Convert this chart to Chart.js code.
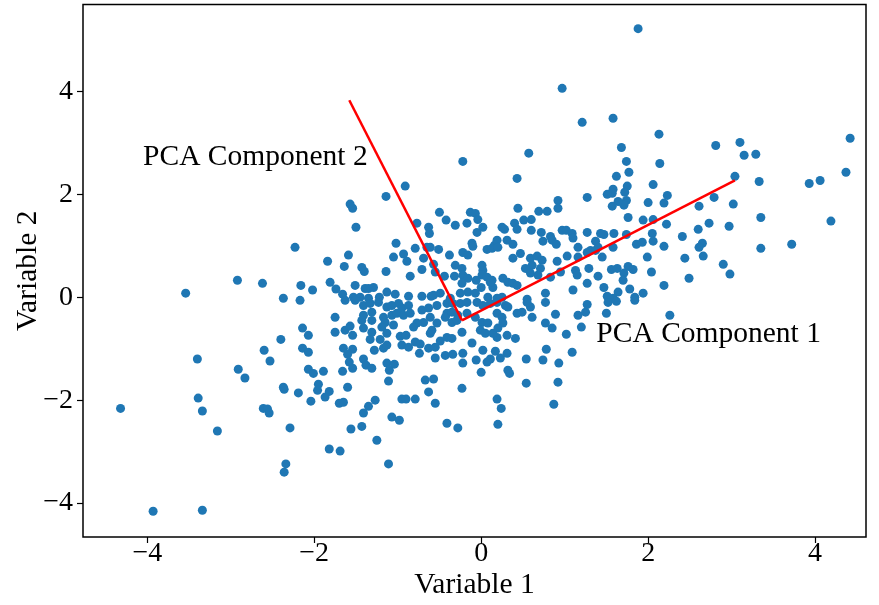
<!DOCTYPE html>
<html>
<head>
<meta charset="utf-8">
<script src="https://cdn.jsdelivr.net/npm/chart.js@4.4.1/dist/chart.umd.min.js"></script>
<style>
  html, body { margin: 0; padding: 0; background: #fff; }
  #wrap { width: 879px; height: 605px; }
</style>
</head>
<body>
<div id="wrap"><canvas id="pca" width="879" height="605"></canvas></div>
<script>
// sample cloud: [Variable 1, Variable 2]
const samples = [
  [-2.92,0.33],[-2.62,0.27],[-2.16,0.23],[-3.54,0.08],[-2.37,-0.02],[-2.17,-0.06],[-2.14,-0.60],[-2.40,-0.82],[-2.14,-0.99],[-2.60,-1.03],
  [-3.40,-1.20],[-2.53,-1.24],[-2.91,-1.40],[-2.83,-1.57],[-2.37,-1.75],[-2.36,-1.79],[-2.19,-1.86],[-3.39,-1.96],[-4.32,-2.16],[-3.34,-2.21],
  [-2.61,-2.16],[-2.56,-2.17],[-2.54,-2.25],[-3.16,-2.60],[-2.29,-2.54],[-2.34,-3.24],[-2.36,-3.40],[-3.93,-4.16],[-3.34,-4.14],[-2.23,0.97],
  [-0.91,2.16],[-1.14,1.96],[-1.57,1.81],[-1.54,1.73],[-1.50,1.36],[-0.50,1.65],[-0.42,1.50],[-0.77,1.44],[-0.63,1.36],[-0.62,1.24],
  [-1.02,1.05],[-0.79,0.95],[-0.65,0.97],[-0.61,0.97],[-0.51,0.93],[-1.05,0.78],[-0.93,0.84],[-0.89,0.70],[-0.69,0.76],[-1.84,0.70],
  [-1.59,0.82],[-1.64,0.60],[-1.43,0.58],[-1.40,0.50],[-1.14,0.50],[-0.71,0.54],[-0.57,0.64],[-0.55,0.49],[-0.44,0.41],[-0.85,0.41],
  [-0.38,0.82],[-2.02,0.14],[-1.81,0.29],[-1.74,0.16],[-1.66,0.06],[-1.51,0.23],[-1.39,0.17],[-1.35,0.17],[-1.29,0.19],[-1.22,0.00],
  [-1.13,0.10],[-1.03,0.06],[-0.87,0.02],[-0.71,0.02],[-0.60,0.02],[-0.57,0.04],[-0.49,0.08],[-1.53,0.00],[-1.45,0.00],[-1.35,-0.02],
  [-1.63,-0.06],[-1.51,-0.06],[-1.41,-0.16],[-1.33,-0.12],[-1.23,-0.10],[-1.13,-0.19],[-1.07,-0.16],[-0.99,-0.12],[-0.95,-0.21],[-0.87,-0.16],
  [-1.41,-0.35],[-1.31,-0.29],[-1.43,-0.45],[-1.31,-0.45],[-1.17,-0.39],[-1.15,-0.49],[-1.07,-0.35],[-1.01,-0.31],[-0.93,-0.35],[-0.85,-0.31],
  [-1.05,-0.54],[-1.41,-0.60],[-1.31,-0.68],[-1.19,-0.58],[-0.71,-0.25],[-0.63,-0.21],[-0.53,-0.16],[-0.41,-0.12],[-0.41,-0.31],[-0.61,-0.39],
  [-0.69,-0.49],[-0.77,-0.50],[-0.81,-0.58],[-0.53,-0.50],[-0.43,-0.39],[-1.75,-0.39],[-2.07,-0.74],[-1.75,-0.68],[-1.63,-0.64],[-1.57,-0.56],
  [-1.54,-0.74],[-1.33,-0.82],[-1.21,-0.82],[-1.13,-0.70],[-0.97,-0.76],[-0.90,-0.74],[-0.61,-0.70],[-0.59,-0.64],[-0.49,-0.85],[-0.41,-0.78],
  [-0.95,-0.93],[-0.87,-0.97],[-0.79,-0.87],[-0.73,-0.91],[-0.63,-0.99],[-0.55,-0.97],[-0.74,-1.09],[-0.55,-1.18],[-0.43,-1.13],[-1.65,-0.99],
  [-1.54,-1.01],[-1.60,-1.11],[-1.28,-1.03],[-1.17,-0.99],[-1.13,-0.93],[-2.07,-1.07],[-1.58,-1.26],[-1.54,-1.38],[-1.41,-1.20],[-1.38,-1.32],
  [-1.31,-1.38],[-1.13,-1.28],[-1.04,-1.30],[-1.10,-1.42],[-2.07,-1.40],[-2.01,-1.48],[-1.89,-1.44],[-1.66,-1.44],[-1.11,-1.63],[-0.67,-1.61],
  [-0.57,-1.59],[-1.60,-1.75],[-1.95,-1.69],[-1.96,-1.81],[-1.82,-1.83],[-1.87,-1.94],[-2.04,-2.02],[-0.63,-1.84],[-1.70,-2.06],[-1.65,-2.04],
  [-1.27,-2.00],[-1.35,-2.12],[-1.41,-2.25],[-0.95,-1.98],[-0.90,-1.98],[-0.79,-1.98],[-0.55,-2.06],[-1.07,-2.33],[-0.98,-2.39],[-0.41,-2.45],
  [-1.43,-2.51],[-1.56,-2.56],[-1.25,-2.78],[-1.82,-2.95],[-1.69,-2.99],[-1.11,-3.24],[-0.22,2.64],[0.57,2.80],[0.43,2.31],[1.27,1.94],
  [0.92,1.88],[0.92,1.73],[0.44,1.73],[0.69,1.67],[0.79,1.67],[-0.13,1.65],[-0.07,1.63],[-0.04,1.51],[-0.31,1.40],[-0.17,1.44],
  [0.51,1.50],[0.60,1.51],[0.60,1.30],[0.40,1.44],[0.43,1.32],[0.25,1.36],[0.28,1.32],[0.02,1.36],[-0.05,1.26],[0.72,1.26],
  [0.83,1.18],[0.74,1.09],[0.85,1.11],[0.90,1.03],[0.97,1.30],[1.02,1.30],[1.09,1.24],[1.10,1.15],[1.27,1.26],[1.37,1.09],
  [1.40,0.97],[0.31,1.11],[0.38,1.03],[0.19,1.11],[0.16,1.01],[0.07,0.93],[0.13,0.95],[0.20,0.97],[-0.11,1.05],[-0.10,0.99],
  [-0.22,0.87],[-0.16,0.82],[-0.31,0.62],[0.47,0.85],[0.38,0.76],[0.59,0.76],[0.67,0.80],[0.73,0.72],[0.61,0.62],[0.53,0.56],
  [0.71,0.56],[0.59,0.47],[0.68,0.43],[0.91,0.70],[1.03,0.80],[1.16,0.97],[1.16,0.78],[1.27,0.87],[1.31,0.91],[1.37,0.91],
  [0.83,0.39],[0.95,0.49],[1.13,0.52],[1.15,0.43],[1.29,0.56],[1.40,0.41],[1.27,0.27],[1.10,0.14],[0.77,0.08],[0.01,0.62],
  [0.02,0.52],[0.01,0.43],[0.07,0.39],[0.13,0.33],[0.14,0.19],[0.11,0.29],[-0.23,0.56],[-0.22,0.43],[-0.16,0.37],[-0.06,0.33],
  [0.00,0.19],[-0.32,0.41],[-0.23,0.27],[-0.16,0.10],[-0.07,0.08],[0.26,0.37],[0.32,0.29],[0.38,0.27],[0.43,0.23],[0.25,0.00],
  [0.19,-0.02],[0.08,0.00],[0.55,-0.04],[-0.25,0.08],[-0.37,-0.02],[-0.34,-0.12],[-0.25,-0.12],[-0.17,-0.10],[-0.05,-0.10],[0.02,-0.16],
  [0.11,-0.12],[0.19,-0.10],[0.29,-0.16],[0.32,-0.19],[-0.35,-0.29],[-0.28,-0.35],[-0.17,-0.31],[-0.35,-0.49],[-0.29,-0.45],[-0.07,-0.39],
  [0.01,-0.49],[0.08,-0.50],[0.19,-0.31],[0.25,-0.39],[0.26,-0.50],[0.20,-0.60],[0.19,-0.78],[-0.01,-0.64],[0.05,-0.70],[0.14,-0.70],
  [-0.23,-0.68],[-0.35,-0.80],[0.31,-0.74],[0.41,-0.80],[0.43,-0.31],[0.49,-0.29],[0.59,-0.19],[0.61,-0.39],[0.55,-0.10],[0.77,-0.10],
  [0.77,-0.50],[0.85,-0.60],[0.89,-0.33],[1.02,-0.72],[1.16,-0.35],[1.25,-0.29],[1.27,-0.14],[1.20,-0.58],[-0.11,-0.89],[0.02,-1.03],
  [0.17,-1.05],[0.31,-1.09],[0.23,-1.18],[0.11,-1.20],[0.07,-1.26],[-0.06,-1.22],[-0.22,-1.09],[-0.22,-1.28],[-0.34,-1.11],[0.32,-1.42],
  [0.34,-1.48],[0.00,-1.46],[0.54,-1.20],[0.74,-1.22],[0.78,-1.01],[0.93,-1.28],[1.09,-1.07],[0.54,-1.67],[0.92,-1.65],[-0.23,-1.77],
  [0.19,-1.98],[0.24,-2.16],[0.87,-2.08],[-0.28,-2.54],[0.20,-2.47],[1.58,3.48],[2.13,3.17],[1.68,2.91],[2.81,2.95],[3.10,3.01],
  [3.15,2.76],[1.74,2.64],[2.14,2.60],[1.77,2.43],[1.62,2.35],[3.04,2.35],[2.06,2.19],[1.75,2.16],[1.72,2.04],[1.58,2.10],
  [1.57,2.02],[1.51,2.00],[2.23,1.98],[2.00,1.84],[2.19,1.83],[2.79,1.94],[2.61,1.77],[3.02,1.81],[1.74,1.88],[1.71,1.79],
  [1.64,1.86],[1.57,1.77],[1.76,1.55],[1.94,1.50],[2.06,1.51],[2.22,1.42],[2.73,1.44],[2.60,1.32],[2.97,1.38],[1.59,1.24],
  [1.74,1.22],[1.47,1.22],[1.43,1.24],[2.41,1.18],[2.05,1.24],[2.06,1.09],[2.19,0.99],[1.86,1.03],[1.93,1.07],[1.58,0.97],
  [2.65,1.05],[2.61,0.97],[2.66,0.80],[2.44,0.76],[1.99,0.78],[2.90,0.64],[2.98,0.45],[1.45,0.78],[1.47,0.19],[1.56,0.54],
  [1.63,0.56],[1.76,0.60],[1.82,0.54],[1.71,0.47],[1.70,0.33],[2.04,0.49],[2.49,0.37],[2.19,0.23],[1.78,0.16],[1.94,0.08],
  [1.84,0.00],[1.64,0.10],[1.58,-0.02],[1.51,0.02],[1.52,-0.10],[1.62,-0.08],[1.84,-0.06],[1.50,-0.31],[2.26,-0.35],[4.42,3.09],
  [3.29,2.78],[3.33,2.25],[3.93,2.21],[4.06,2.27],[4.37,2.43],[3.35,1.55],[4.19,1.48],[3.35,0.95],[3.72,1.03],[1.88,5.22],
  [0.97,4.06],[1.21,3.40]
];

// principal axes drawn from the sample mean
const pcaOrigin = [-0.23, -0.45];
const pc1End = [3.04, 2.27];
const pc2End = [-1.58, 3.83];

const pcLabels = [
  { text: 'PCA Component 2', at: [-4.05, 2.72] },
  { text: 'PCA Component 1', at: [1.38, -0.72] }
];

const xRange = [-4.77, 4.61];
const yRange = [-4.66, 5.69];
const xTicks = [-4, -2, 0, 2, 4];
const yTicks = [-4, -2, 0, 2, 4];

const SERIF = '"Liberation Serif", "Times New Roman", serif';
const minus = v => String(v).replace('-', '\u2212');
const pt = p => ({ x: p[0], y: p[1] });

// frame around the plot + component labels
const framePlugin = {
  id: 'frame',
  afterDatasetsDraw(chart) {
    const { ctx, chartArea: a, scales } = chart;
    ctx.save();
    ctx.fillStyle = '#000';
    ctx.font = '29.5px ' + SERIF;
    ctx.textAlign = 'left';
    ctx.textBaseline = 'middle';
    pcLabels.forEach(l => {
      ctx.fillText(l.text, scales.x.getPixelForValue(l.at[0]), scales.y.getPixelForValue(l.at[1]));
    });
    ctx.strokeStyle = '#000';
    ctx.lineWidth = 1.5;
    ctx.strokeRect(a.left, a.top, a.right - a.left, a.bottom - a.top);
    ctx.restore();
  }
};

function axisOpts(range, ticks, title, isX) {
  return {
    type: 'linear',
    min: range[0],
    max: range[1],
    afterBuildTicks: s => { s.ticks = ticks.map(v => ({ value: v })); },
    afterFit: s => {
      // ticks never sit at the ends, so no edge padding is needed
      s.paddingTop = s.paddingBottom = s.paddingLeft = s.paddingRight = 0;
      if (isX) s.height = 68; else s.width = 83;
    },
    grid: { display: true, drawOnChartArea: false, drawTicks: true, tickLength: 6, tickWidth: 1.2, tickColor: '#000' },
    border: { display: false },
    ticks: {
      color: '#000',
      padding: isX ? -6 : 4,
      font: { family: SERIF, size: 28 },
      callback: v => minus(v)
    },
    title: {
      display: true,
      text: title,
      color: '#000',
      font: { family: SERIF, size: 29.5, lineHeight: 1 },
      padding: isX ? { top: 0, bottom: 5 } : { top: 13, bottom: 0 }
    }
  };
}

new Chart(document.getElementById('pca').getContext('2d'), {
  type: 'scatter',
  data: {
    datasets: [
      {
        data: [pt(pcaOrigin), pt(pc1End)],
        showLine: true,
        borderColor: '#ff0000',
        borderWidth: 2.5,
        pointRadius: 0,
        order: 0
      },
      {
        data: [pt(pcaOrigin), pt(pc2End)],
        showLine: true,
        borderColor: '#ff0000',
        borderWidth: 2.5,
        pointRadius: 0,
        order: 0
      },
      {
        data: samples.map(pt),
        pointRadius: 4.5,
        pointBackgroundColor: '#1f77b4',
        pointBorderWidth: 0,
        order: 1
      }
    ]
  },
  options: {
    responsive: false,
    animation: false,
    devicePixelRatio: 1,
    layout: { padding: { left: 0, right: 13, top: 4, bottom: 0 } },
    plugins: { legend: { display: false }, tooltip: { enabled: false } },
    scales: {
      x: axisOpts(xRange, xTicks, 'Variable 1', true),
      y: axisOpts(yRange, yTicks, 'Variable 2', false)
    }
  },
  plugins: [framePlugin]
});
</script>
</body>
</html>
